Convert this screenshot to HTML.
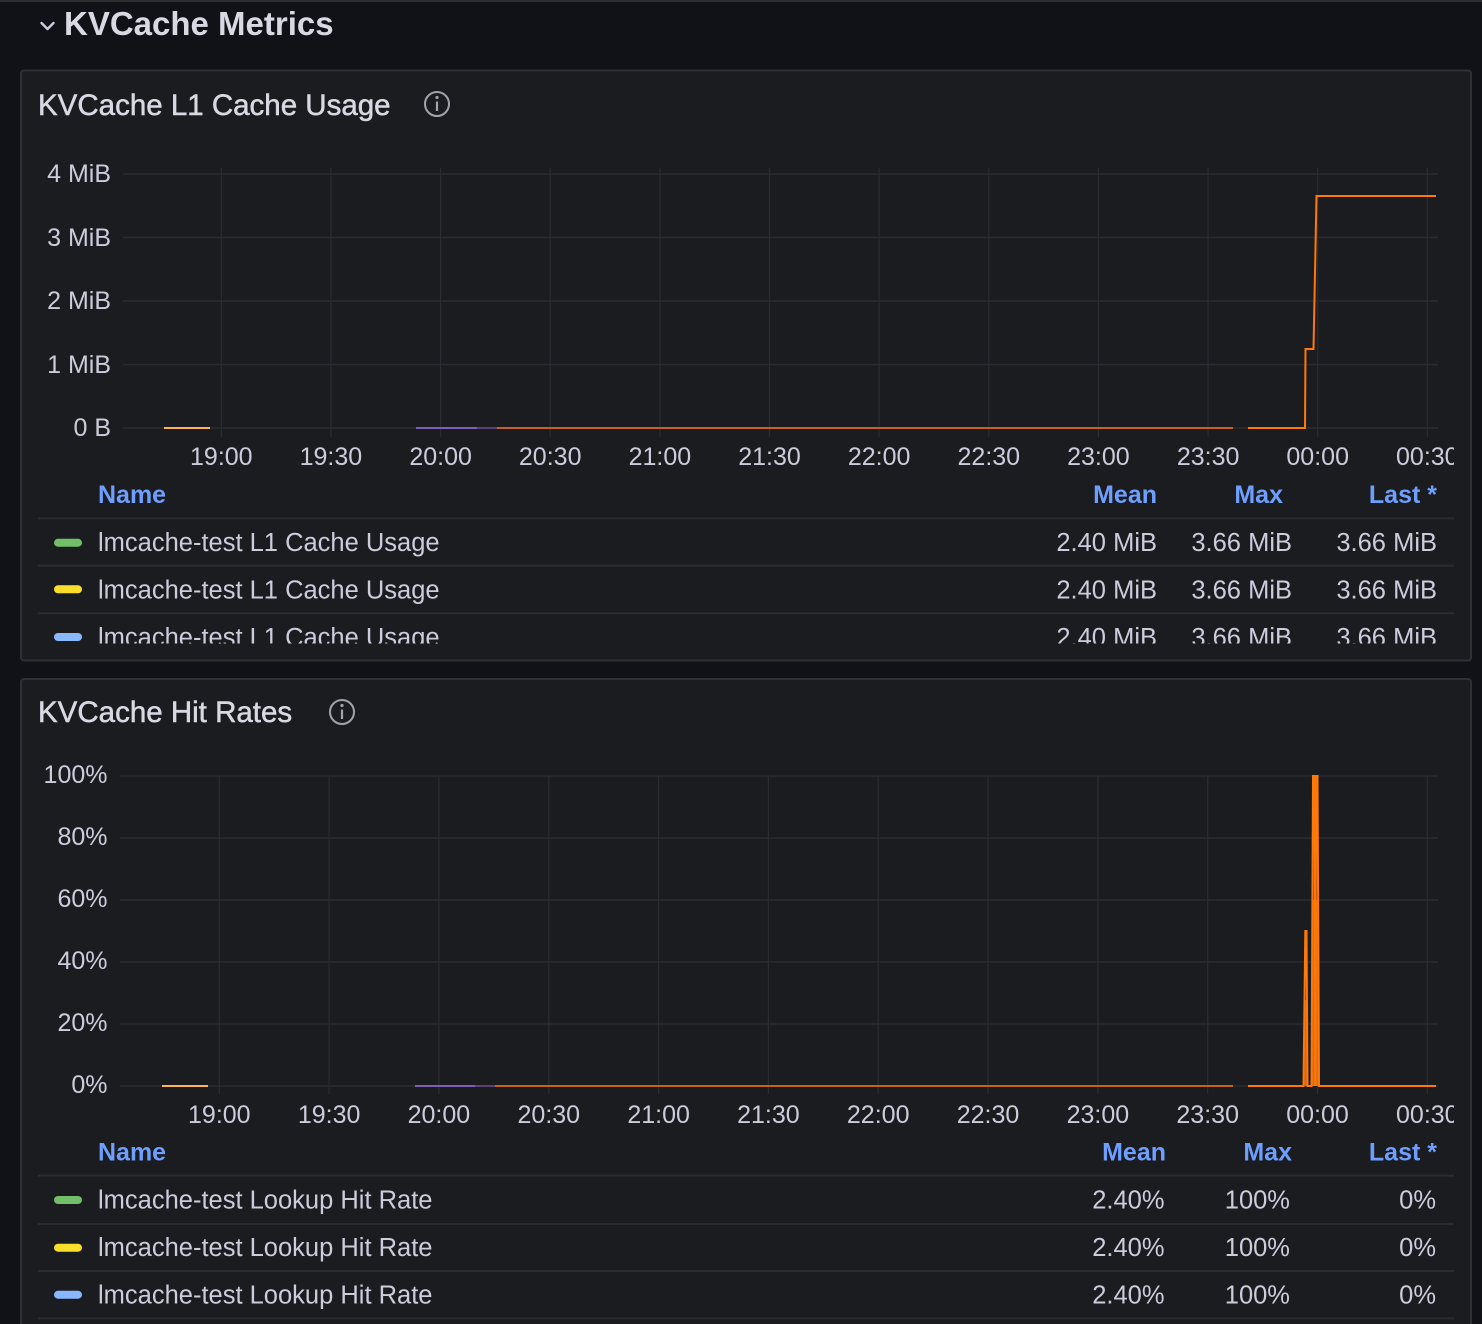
<!DOCTYPE html>
<html>
<head>
<meta charset="utf-8">
<style>
html,body{margin:0;padding:0;background:#111217;}
svg{display:block;}
text{font-family:"Liberation Sans",Arial,sans-serif;}
.ax{font-size:25px;fill:#ccccdc;}
.lg{font-size:25.5px;fill:#ccccdc;}
.hd{font-size:25px;fill:#6e9fff;font-weight:bold;}
.pt{font-size:29.5px;fill:#d8d9e3;stroke:#d8d9e3;stroke-width:0.5px;}
</style>
</head>
<body>
<svg width="1482" height="1324" viewBox="0 0 1482 1324" xmlns="http://www.w3.org/2000/svg">
<defs>
<clipPath id="cx"><rect x="0" y="0" width="1454" height="1324"/></clipPath>
<clipPath id="cl1"><rect x="0" y="520" width="1482" height="123.5"/></clipPath>
</defs>
<rect x="0" y="0" width="1482" height="1324" fill="#111217"/>
<rect x="0" y="0" width="1482" height="2" fill="#2c2e34"/>

<!-- Row header -->
<polyline points="41.5,23 47.5,29 53.5,23" fill="none" stroke="#ccccdc" stroke-width="2.4" stroke-linecap="round" stroke-linejoin="round"/>
<text x="64" y="35" font-size="33" font-weight="bold" fill="#d8d9e3">KVCache Metrics</text>

<!-- Panel 1 -->
<rect x="21" y="70.5" width="1450" height="590" rx="3" fill="#1b1c20" stroke="#2e3036" stroke-width="2"/>
<text class="pt" x="38" y="115">KVCache L1 Cache Usage</text>
<circle cx="437" cy="104" r="12" fill="none" stroke="#a0a4ad" stroke-width="2"/>
<circle cx="437" cy="97.5" r="1.6" fill="#a0a4ad"/>
<line x1="437" y1="101.5" x2="437" y2="111" stroke="#a0a4ad" stroke-width="2.2"/>

<g stroke="#2a2c31" stroke-width="1.5">
<line x1="123" y1="174" x2="1438" y2="174"/>
<line x1="123" y1="237.5" x2="1438" y2="237.5"/>
<line x1="123" y1="301" x2="1438" y2="301"/>
<line x1="123" y1="364.5" x2="1438" y2="364.5"/>
<line x1="123" y1="428" x2="1438" y2="428"/>
</g>
<g stroke="#2a2c31" stroke-width="1.2">
<line x1="221.3" y1="168" x2="221.3" y2="437"/>
<line x1="330.9" y1="168" x2="330.9" y2="437"/>
<line x1="440.6" y1="168" x2="440.6" y2="437"/>
<line x1="550.2" y1="168" x2="550.2" y2="437"/>
<line x1="659.9" y1="168" x2="659.9" y2="437"/>
<line x1="769.5" y1="168" x2="769.5" y2="437"/>
<line x1="879.1" y1="168" x2="879.1" y2="437"/>
<line x1="988.8" y1="168" x2="988.8" y2="437"/>
<line x1="1098.4" y1="168" x2="1098.4" y2="437"/>
<line x1="1208.1" y1="168" x2="1208.1" y2="437"/>
<line x1="1317.7" y1="168" x2="1317.7" y2="437"/>
<line x1="1427.3" y1="168" x2="1427.3" y2="437"/>
</g>
<g class="ax" text-anchor="end">
<text x="111" y="182">4 MiB</text>
<text x="111" y="246">3 MiB</text>
<text x="111" y="309">2 MiB</text>
<text x="111" y="373">1 MiB</text>
<text x="111" y="436">0 B</text>
</g>
<g class="ax" text-anchor="middle" clip-path="url(#cx)">
<text x="221.3" y="465">19:00</text>
<text x="330.9" y="465">19:30</text>
<text x="440.6" y="465">20:00</text>
<text x="550.2" y="465">20:30</text>
<text x="659.9" y="465">21:00</text>
<text x="769.5" y="465">21:30</text>
<text x="879.1" y="465">22:00</text>
<text x="988.8" y="465">22:30</text>
<text x="1098.4" y="465">23:00</text>
<text x="1208.1" y="465">23:30</text>
<text x="1317.7" y="465">00:00</text>
<text x="1427.3" y="465">00:30</text>
</g>
<!-- series panel 1 -->
<g stroke-width="2" fill="none">
<line x1="164" y1="428" x2="210" y2="428" stroke="#ffb357"/>
<line x1="416" y1="428" x2="477" y2="428" stroke="#7e5fb8"/>
<line x1="477" y1="428" x2="497" y2="428" stroke="#5a4275"/>
<line x1="497" y1="428" x2="1233" y2="428" stroke="#c8601e"/>
<polyline points="1248,428 1305,428 1305.5,349 1313.5,349 1316.5,196 1436,196" stroke="#ff780a" stroke-linejoin="miter"/>
</g>

<!-- Legend panel 1 -->
<text class="hd" x="98" y="503">Name</text>
<g class="hd" text-anchor="end">
<text x="1157" y="503">Mean</text>
<text x="1283" y="503">Max</text>
<text x="1437" y="503">Last *</text>
</g>
<g fill="#2a2c31">
<rect x="38" y="517.3" width="1416" height="2"/>
<rect x="38" y="564.7" width="1416" height="2"/>
<rect x="38" y="612.3" width="1416" height="2"/>
</g>
<g clip-path="url(#cl1)">
<rect x="54" y="538.7" width="28" height="8" rx="4" fill="#73bf69"/>
<rect x="54" y="585.3" width="28" height="8" rx="4" fill="#fade2a"/>
<rect x="54" y="633" width="28" height="8" rx="4" fill="#8ab8ff"/>
<text class="lg" x="98" y="551">lmcache-test L1 Cache Usage</text>
<text class="lg" x="98" y="598.3">lmcache-test L1 Cache Usage</text>
<text class="lg" x="98" y="646">lmcache-test L1 Cache Usage</text>
<g class="lg" text-anchor="end">
<text x="1157" y="551">2.40 MiB</text>
<text x="1292" y="551">3.66 MiB</text>
<text x="1437" y="551">3.66 MiB</text>
<text x="1157" y="598.3">2.40 MiB</text>
<text x="1292" y="598.3">3.66 MiB</text>
<text x="1437" y="598.3">3.66 MiB</text>
<text x="1157" y="646">2.40 MiB</text>
<text x="1292" y="646">3.66 MiB</text>
<text x="1437" y="646">3.66 MiB</text>
</g>
</g>

<!-- Panel 2 -->
<rect x="21" y="679" width="1450" height="700" rx="3" fill="#1b1c20" stroke="#2e3036" stroke-width="2"/>
<text class="pt" x="38" y="722">KVCache Hit Rates</text>
<circle cx="342" cy="712" r="12" fill="none" stroke="#a0a4ad" stroke-width="2"/>
<circle cx="342" cy="705.5" r="1.6" fill="#a0a4ad"/>
<line x1="342" y1="709.5" x2="342" y2="719" stroke="#a0a4ad" stroke-width="2.2"/>

<g stroke="#2a2c31" stroke-width="1.5">
<line x1="120" y1="776" x2="1438" y2="776"/>
<line x1="120" y1="838" x2="1438" y2="838"/>
<line x1="120" y1="900" x2="1438" y2="900"/>
<line x1="120" y1="962" x2="1438" y2="962"/>
<line x1="120" y1="1024" x2="1438" y2="1024"/>
<line x1="120" y1="1086" x2="1438" y2="1086"/>
</g>
<g stroke="#2a2c31" stroke-width="1.2">
<line x1="219.3" y1="776" x2="219.3" y2="1094"/>
<line x1="329.1" y1="776" x2="329.1" y2="1094"/>
<line x1="438.9" y1="776" x2="438.9" y2="1094"/>
<line x1="548.8" y1="776" x2="548.8" y2="1094"/>
<line x1="658.6" y1="776" x2="658.6" y2="1094"/>
<line x1="768.4" y1="776" x2="768.4" y2="1094"/>
<line x1="878.2" y1="776" x2="878.2" y2="1094"/>
<line x1="988.0" y1="776" x2="988.0" y2="1094"/>
<line x1="1097.9" y1="776" x2="1097.9" y2="1094"/>
<line x1="1207.7" y1="776" x2="1207.7" y2="1094"/>
<line x1="1317.5" y1="776" x2="1317.5" y2="1094"/>
<line x1="1427.3" y1="776" x2="1427.3" y2="1094"/>
</g>
<g class="ax" text-anchor="end">
<text x="107.5" y="783">100%</text>
<text x="107.5" y="845">80%</text>
<text x="107.5" y="907">60%</text>
<text x="107.5" y="969">40%</text>
<text x="107.5" y="1031">20%</text>
<text x="107.5" y="1093">0%</text>
</g>
<g class="ax" text-anchor="middle" clip-path="url(#cx)">
<text x="219.3" y="1123">19:00</text>
<text x="329.1" y="1123">19:30</text>
<text x="438.9" y="1123">20:00</text>
<text x="548.8" y="1123">20:30</text>
<text x="658.6" y="1123">21:00</text>
<text x="768.4" y="1123">21:30</text>
<text x="878.2" y="1123">22:00</text>
<text x="988.0" y="1123">22:30</text>
<text x="1097.9" y="1123">23:00</text>
<text x="1207.7" y="1123">23:30</text>
<text x="1317.5" y="1123">00:00</text>
<text x="1427.3" y="1123">00:30</text>
</g>
<!-- series panel 2 -->
<g stroke-width="2" fill="none">
<line x1="162" y1="1086" x2="208" y2="1086" stroke="#ffb357"/>
<line x1="415" y1="1086" x2="475" y2="1086" stroke="#7e5fb8"/>
<line x1="475" y1="1086" x2="495" y2="1086" stroke="#5a4275"/>
<line x1="495" y1="1086" x2="1233" y2="1086" stroke="#c8601e"/>
<polyline points="1248,1086 1303.5,1086 1305.3,931 1306.5,931 1307.5,1086 1311.5,1086 1313,776 1314.5,776 1315.3,1086 1316,776 1317.5,776 1319,1086 1436,1086" stroke="#ff780a" stroke-linejoin="miter"/>
<rect x="1312.5" y="900" width="6" height="186" fill="#ff780a" stroke="none" opacity="0.85"/>
<rect x="1304" y="1000" width="2.5" height="86" fill="#ff780a" stroke="none" opacity="0.8"/>
</g>

<!-- Legend panel 2 -->
<text class="hd" x="98" y="1160.7">Name</text>
<g class="hd" text-anchor="end">
<text x="1166" y="1160.7">Mean</text>
<text x="1292" y="1160.7">Max</text>
<text x="1437" y="1160.7">Last *</text>
</g>
<g fill="#2a2c31">
<rect x="38" y="1174.7" width="1416" height="2"/>
<rect x="38" y="1223" width="1416" height="2"/>
<rect x="38" y="1270" width="1416" height="2"/>
<rect x="38" y="1317.3" width="1416" height="2"/>
</g>
<rect x="54" y="1196" width="28" height="8" rx="4" fill="#73bf69"/>
<rect x="54" y="1243.7" width="28" height="8" rx="4" fill="#fade2a"/>
<rect x="54" y="1290.7" width="28" height="8" rx="4" fill="#8ab8ff"/>
<text class="lg" x="98" y="1208.3">lmcache-test Lookup Hit Rate</text>
<text class="lg" x="98" y="1256">lmcache-test Lookup Hit Rate</text>
<text class="lg" x="98" y="1303.3">lmcache-test Lookup Hit Rate</text>
<g class="lg" text-anchor="end">
<text x="1164.5" y="1208.3">2.40%</text>
<text x="1290" y="1208.3">100%</text>
<text x="1436" y="1208.3">0%</text>
<text x="1164.5" y="1256">2.40%</text>
<text x="1290" y="1256">100%</text>
<text x="1436" y="1256">0%</text>
<text x="1164.5" y="1303.3">2.40%</text>
<text x="1290" y="1303.3">100%</text>
<text x="1436" y="1303.3">0%</text>
</g>
</svg>
</body>
</html>
